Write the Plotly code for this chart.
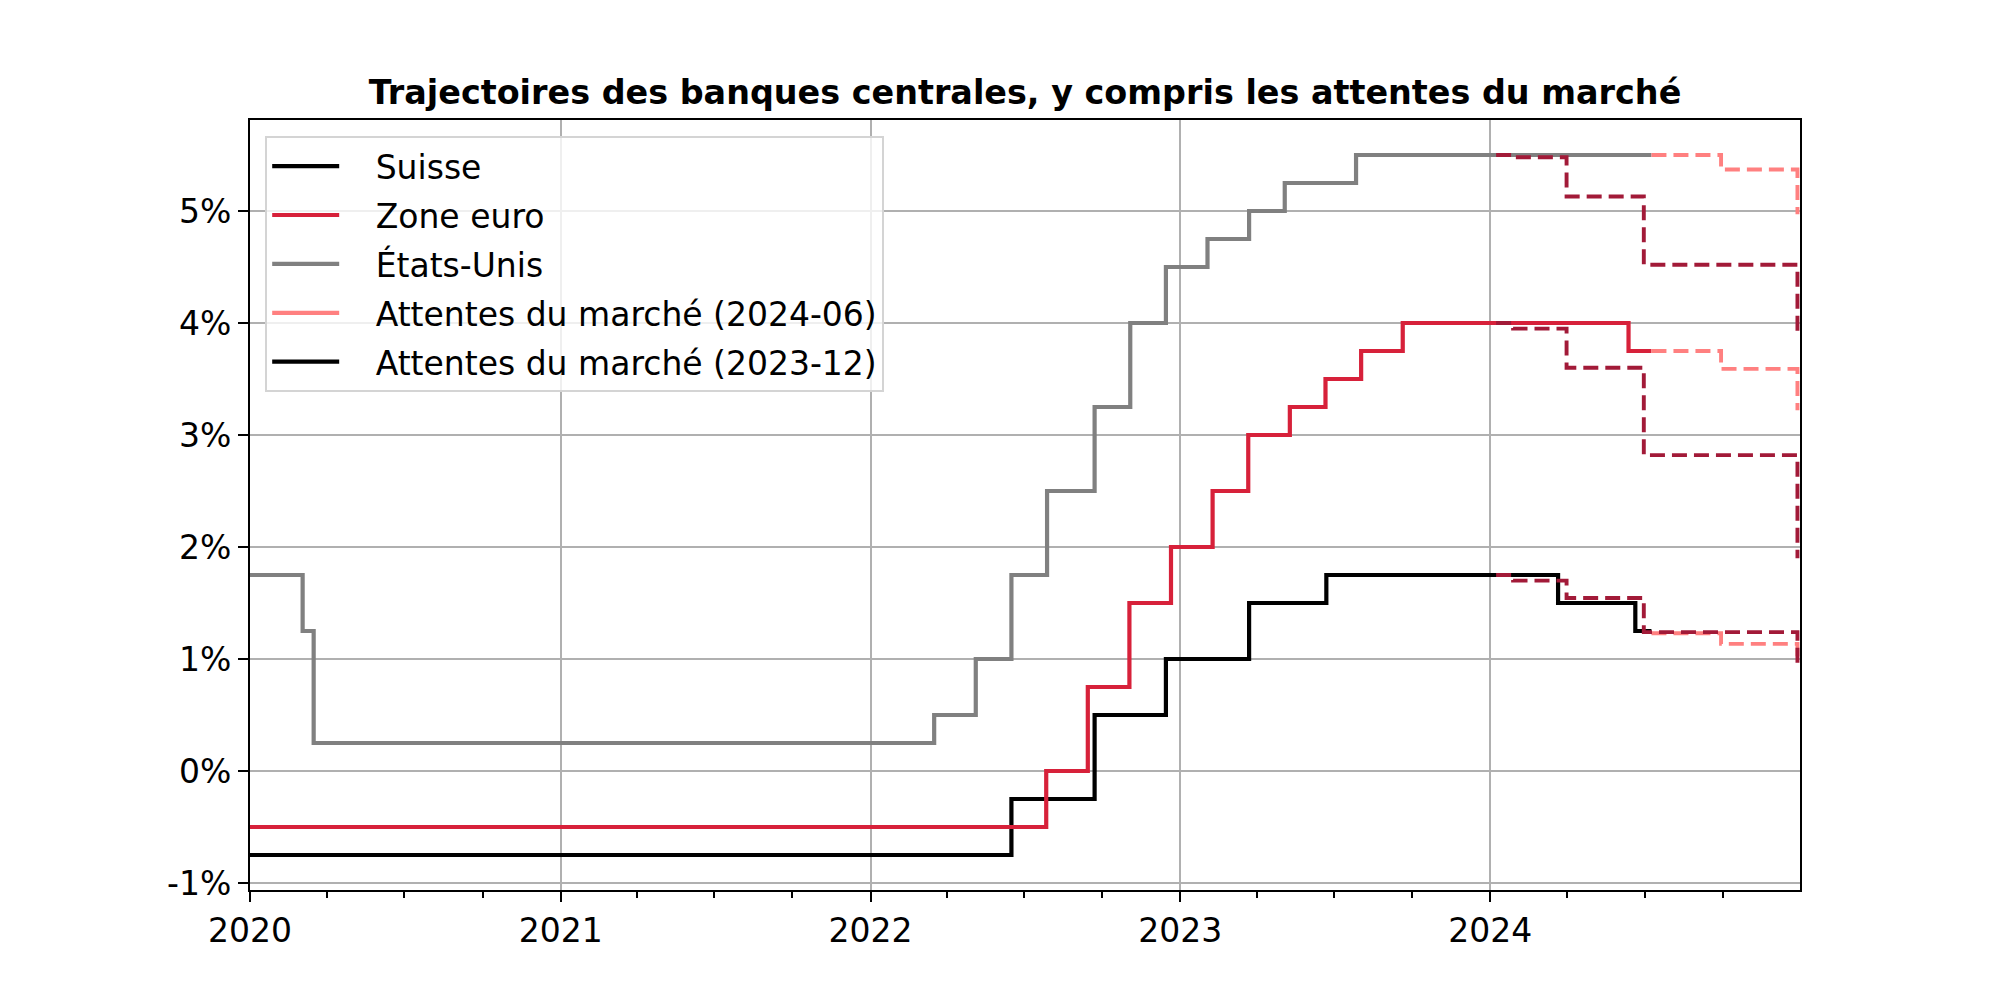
import plotly.graph_objects as go

# ---------------- data ----------------
ch_dates = ["2020-01-01", "2022-06-16", "2022-09-22", "2022-12-15", "2023-03-23",
            "2023-06-22", "2024-03-21", "2024-06-20", "2024-07-09"]
ch_rates = [-0.75, -0.25, 0.5, 1.0, 1.5, 1.75, 1.5, 1.25, 1.25]

ez_dates = ["2020-01-01", "2022-07-27", "2022-09-14", "2022-11-02", "2022-12-21",
            "2023-02-08", "2023-03-22", "2023-05-10", "2023-06-21", "2023-08-02",
            "2023-09-20", "2024-06-12", "2024-07-09"]
ez_rates = [-0.5, 0.0, 0.75, 1.5, 2.0, 2.5, 3.0, 3.25, 3.5, 3.75, 4.0, 3.75, 3.75]

us_dates = ["2020-01-01", "2020-03-03", "2020-03-16", "2022-03-17", "2022-05-05",
            "2022-06-16", "2022-07-28", "2022-09-22", "2022-11-03", "2022-12-15",
            "2023-02-02", "2023-03-23", "2023-05-04", "2023-07-27", "2024-07-09"]
us_rates = [1.75, 1.25, 0.25, 0.5, 1.0, 1.75, 2.5, 3.25, 4.0, 4.5, 4.75, 5.0, 5.25, 5.5, 5.5]

# market expectations (2024-06)
exp_jun_dates = ["2024-07-09", "2024-09-29", "2024-12-28"]
exp_jun_us = [5.5, 5.37, 4.97]
exp_jun_ez = [3.75, 3.59, 3.22]
exp_jun_ch = [1.23, 1.135, 1.0]

# market expectations (2023-12)
exp_dec_dates = ["2024-01-08", "2024-01-28", "2024-03-31", "2024-06-30", "2024-12-28"]
exp_dec_us = [5.5, 5.48, 5.13, 4.52, 3.9]
exp_dec_ez = [4.0, 3.95, 3.60, 2.82, 1.9]
exp_dec_ch = [1.75, 1.70, 1.545, 1.24, 0.95]

y_ticks = [-1, 0, 1, 2, 3, 4, 5]
y_ticklabels = ["-1%", "0%", "1%", "2%", "3%", "4%", "5%"]

title = "Trajectoires des banques centrales, y compris les attentes du marché"
names = ["Suisse", "Zone euro", "États-Unis",
         "Attentes du marché (2024-06)", "Attentes du marché (2023-12)"]

# ---------------- style ----------------
C_CH = "#000000"
C_EZ = "#D7213A"
C_US = "#808080"
C_JUN = "#FF8080"
C_DEC = "#A21A38"
FONT = "DejaVu Sans"
W_SOLID = 4.2
W_DASH = 3.9
DASH = "15px,7px"
PAD = "\u00a0\u00a0\u00a0"

fig = go.Figure()

for i, (d, r, c) in enumerate([(ch_dates, ch_rates, C_CH),
                               (ez_dates, ez_rates, C_EZ),
                               (us_dates, us_rates, C_US)]):
    fig.add_trace(go.Scatter(x=d, y=r, mode="lines", line_shape="hv",
                             line=dict(color=c, width=W_SOLID),
                             name=PAD + names[i], legendgroup=f"g{i}", showlegend=True))

for ys in [exp_jun_us, exp_jun_ez, exp_jun_ch]:
    fig.add_trace(go.Scatter(x=exp_jun_dates, y=ys, mode="lines", line_shape="hv",
                             line=dict(color=C_JUN, width=W_DASH, dash=DASH),
                             showlegend=False))
for ys in [exp_dec_us, exp_dec_ez, exp_dec_ch]:
    fig.add_trace(go.Scatter(x=exp_dec_dates, y=ys, mode="lines", line_shape="hv",
                             line=dict(color=C_DEC, width=W_DASH, dash=DASH),
                             showlegend=False))

# legend-only handles
fig.add_trace(go.Scatter(x=[None], y=[None], mode="lines",
                         line=dict(color=C_JUN, width=W_SOLID),
                         name=PAD + names[3], legendgroup="g3", showlegend=True))
fig.add_trace(go.Scatter(x=[None], y=[None], mode="lines",
                         line=dict(color="#000000", width=W_SOLID),
                         name=PAD + names[4], legendgroup="g4", showlegend=True))

fig.update_layout(
    width=2000, height=1000,
    margin=dict(l=250, r=200, t=120, b=110),
    paper_bgcolor="white", plot_bgcolor="white",
    font=dict(family=FONT, size=33, color="black"),
    title=dict(text="<b>" + title + "</b>", x=0.5125, xanchor="center",
               y=0.908, yanchor="middle", yref="container",
               font=dict(family=FONT, size=33.4, color="black")),
    showlegend=True,
    legend=dict(x=0.0098, y=0.979, xanchor="left", yanchor="top",
                bgcolor="rgba(255,255,255,0.8)", bordercolor="#d4d4d4", borderwidth=2,
                font=dict(family=FONT, size=33, color="black"),
                tracegroupgap=3, itemwidth=67),
)

fig.update_xaxes(
    type="date", range=["2020-01-01", "2024-12-31"],
    tick0="2020-01-01", dtick="M12", tickformat="%Y",
    showgrid=True, gridcolor="#b0b0b0", gridwidth=2.2,
    showline=True, linecolor="black", linewidth=2.2, mirror=True,
    ticks="outside", ticklen=10, tickwidth=2.2, tickcolor="black",
    minor=dict(ticks="outside", ticklen=5.6, tickwidth=1.7, tickcolor="black",
               dtick="M3", tick0="2020-01-01", showgrid=False),
    zeroline=False,
    tickfont=dict(family=FONT, size=33, color="black"),
)
fig.update_yaxes(
    range=[-1.0625, 5.8125],
    tickvals=y_ticks, ticktext=y_ticklabels,
    showgrid=True, gridcolor="#b0b0b0", gridwidth=2.2,
    showline=True, linecolor="black", linewidth=2.2, mirror=True,
    ticks="outside", ticklen=10, tickwidth=2.2, tickcolor="black",
    zeroline=False,
    tickfont=dict(family=FONT, size=33, color="black"),
)

fig.write_html("out.html")
